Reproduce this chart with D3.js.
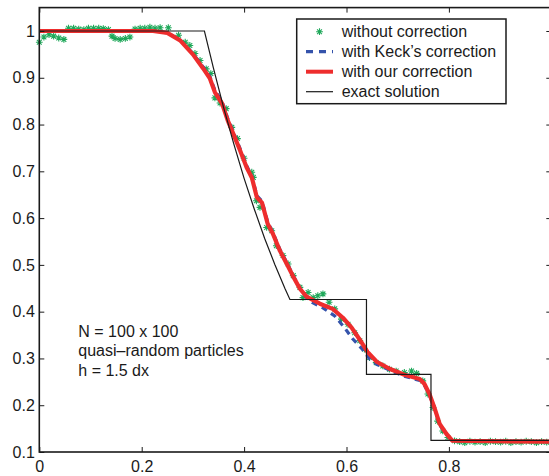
<!DOCTYPE html>
<html>
<head>
<meta charset="utf-8">
<script src="https://cdn.jsdelivr.net/npm/d3@7"></script>
<style>
  body { margin: 0; background: #fff; }
  svg { display: block; font-family: "Liberation Sans", Arial, Helvetica, sans-serif; }
</style>
</head>
<body>
<svg id="chart" width="549" height="476"></svg>
<script>
// without correction (green stars)
const starX = [0.000, 0.009, 0.019, 0.028, 0.038, 0.048, 0.057, 0.067, 0.077, 0.087,
               0.096, 0.106, 0.116, 0.125, 0.135, 0.142, 0.148, 0.158, 0.168, 0.177,
               0.187, 0.197, 0.206, 0.216, 0.226, 0.236, 0.252, 0.272, 0.285, 0.294,
               0.304, 0.314, 0.326, 0.335, 0.343, 0.353, 0.365, 0.376, 0.387, 0.400,
               0.415, 0.418, 0.424, 0.431, 0.444, 0.454, 0.463, 0.476, 0.486, 0.496,
               0.509, 0.515, 0.525, 0.535, 0.544, 0.554, 0.566, 0.577, 0.590, 0.603,
               0.616, 0.626, 0.635, 0.645, 0.658, 0.671, 0.684, 0.697, 0.713, 0.727,
               0.737, 0.749, 0.759, 0.769, 0.778, 0.788, 0.798, 0.811, 0.821, 0.831,
               0.841, 0.851, 0.861, 0.871, 0.881, 0.891, 0.901, 0.911, 0.921, 0.931,
               0.941, 0.951, 0.961, 0.971, 0.981, 0.991];
const starY = [0.976, 0.987, 0.992, 0.989, 0.985, 0.982, 1.006, 1.006, 1.004, 1.003,
               1.006, 1.006, 1.006, 1.005, 1.003, 0.989, 0.984, 0.982, 0.984, 0.987,
               1.004, 1.006, 1.006, 1.008, 1.006, 1.007, 1.007, 0.991, 0.976, 0.969,
               0.952, 0.937, 0.919, 0.909, 0.857, 0.846, 0.834, 0.794, 0.770, 0.728,
               0.698, 0.687, 0.637, 0.623, 0.580, 0.573, 0.541, 0.520, 0.502, 0.477,
               0.452, 0.430, 0.441, 0.430, 0.434, 0.438, 0.420, 0.406, 0.384, 0.373,
               0.355, 0.338, 0.320, 0.302, 0.291, 0.284, 0.277, 0.273, 0.270, 0.273,
               0.268, 0.252, 0.224, 0.195, 0.166, 0.145, 0.131, 0.124, 0.122, 0.120,
               0.123, 0.121, 0.122, 0.120, 0.123, 0.122, 0.121, 0.123, 0.120, 0.122,
               0.121, 0.123, 0.122, 0.120, 0.122, 0.121];

// with Keck's correction (blue dashed)
const keckX = [0, 0.222, 0.250, 0.275, 0.300, 0.320, 0.333, 0.343, 0.357, 0.368, 0.382,
               0.392, 0.405, 0.415, 0.425, 0.435, 0.446, 0.456, 0.470, 0.483, 0.495,
               0.509, 0.522, 0.534, 0.554, 0.577, 0.596, 0.612, 0.630, 0.645, 0.660,
               0.684, 0.713, 0.743, 0.752, 0.762, 0.772, 0.782, 0.795, 0.807, 1.0];
const keckY = [1.0, 1.0, 0.996, 0.981, 0.952, 0.923, 0.903, 0.873, 0.849, 0.813, 0.776,
               0.749, 0.712, 0.690, 0.648, 0.636, 0.592, 0.570, 0.533, 0.506, 0.479,
               0.450, 0.430, 0.419, 0.408, 0.391, 0.366, 0.342, 0.321, 0.299, 0.287,
               0.275, 0.262, 0.253, 0.243, 0.222, 0.192, 0.158, 0.138, 0.124, 0.122];

// with our correction (red)
const oursX = [0, 0.222, 0.250, 0.275, 0.300, 0.320, 0.333, 0.343, 0.357, 0.368, 0.382,
               0.392, 0.405, 0.415, 0.425, 0.435, 0.446, 0.456, 0.470, 0.483, 0.495,
               0.509, 0.522, 0.548, 0.573, 0.593, 0.610, 0.626, 0.641, 0.659, 0.684,
               0.713, 0.743, 0.752, 0.762, 0.772, 0.782, 0.795, 0.807, 1.0];
const oursY = [1.0, 1.0, 0.996, 0.980, 0.950, 0.920, 0.899, 0.869, 0.845, 0.809, 0.772,
               0.745, 0.708, 0.687, 0.644, 0.633, 0.588, 0.567, 0.530, 0.503, 0.477,
               0.449, 0.432, 0.417, 0.406, 0.387, 0.366, 0.340, 0.314, 0.293, 0.278,
               0.265, 0.256, 0.246, 0.224, 0.194, 0.160, 0.139, 0.124, 0.122];

// exact solution (black)
const exactX = [0, 0.3225, 0.34, 0.36, 0.38, 0.40, 0.42, 0.44, 0.46, 0.48, 0.4895,
                0.639, 0.639, 0.765, 0.765, 1.0];
const exactY = [1, 1, 0.921, 0.836, 0.758, 0.685, 0.619, 0.557, 0.501, 0.449, 0.426,
                0.426, 0.266, 0.266, 0.125, 0.125];

const xTicks = [0, 0.2, 0.4, 0.6, 0.8, 1];
const xTickLabels = ['0', '0.2', '0.4', '0.6', '0.8', ''];
const yTicks = [0.1, 0.2, 0.3, 0.4, 0.5, 0.6, 0.7, 0.8, 0.9, 1];
const yTickLabels = ['0.1', '0.2', '0.3', '0.4', '0.5', '0.6', '0.7', '0.8', '0.9', '1'];

const legendLabels = ['without correction', 'with Keck\u2019s correction', 'with our correction', 'exact solution'];
const noteLines = ['N = 100 x 100', 'quasi\u2013random particles', 'h = 1.5 dx'];

// matlab style '*' marker, 8 arms
const asterisk = {
    draw(ctx, size) {
        const r = Math.sqrt(size) / 2;
        const d = r * 0.7071;
        ctx.moveTo(0, -r); ctx.lineTo(0, r);
        ctx.moveTo(-r, 0); ctx.lineTo(r, 0);
        ctx.moveTo(-d, -d); ctx.lineTo(d, d);
        ctx.moveTo(-d, d); ctx.lineTo(d, -d);
    }
};

class ShockTubeChart {
    constructor() {
        this.COLORS = {star: '#1fa85a', keck: '#3553ab', ours: '#ee2d2d', exact: '#1a1a1a', ink: '#1a1a1a'};

        this.xScale = d3.scaleLinear()
            .domain([0, 1])
            .range([39.3, 551.3]);
        this.yScale = d3.scaleLinear()
            .domain([0.1, 1.05])
            .range([452, 7.6]);

        this.svg = d3.select('#chart');
        this.drawChart();
    }

    drawChart() {
        this.drawSeries();
        this.drawAxis();
        this.drawLegend();
        this.drawNote();
    }

    drawAxis() {
        const x = this.xScale, y = this.yScale;
        const g = this.svg.append('g');

        const bottom = d3.axisBottom(x).tickValues(xTicks)
            .tickFormat((d, i) => xTickLabels[i])
            .tickSizeInner(-5).tickSizeOuter(0).tickPadding(9);
        const left = d3.axisLeft(y).tickValues(yTicks)
            .tickFormat((d, i) => yTickLabels[i])
            .tickSizeInner(-5).tickSizeOuter(0).tickPadding(4.5);
        const top = d3.axisTop(x).tickValues(xTicks).tickFormat('')
            .tickSizeInner(-5).tickSizeOuter(0);
        const right = d3.axisRight(y).tickValues(yTicks).tickFormat('')
            .tickSizeInner(-5).tickSizeOuter(0);

        g.append('g').attr('transform', `translate(0, ${y(0.1)})`).call(bottom);
        g.append('g').attr('transform', `translate(${x(0)}, 0)`).call(left);
        g.append('g').attr('transform', `translate(0, ${y(1.05)})`).call(top);
        g.append('g').attr('transform', `translate(${x(1)}, 0)`).call(right);

        g.selectAll('.domain').remove();
        g.selectAll('.tick line').attr('stroke', this.COLORS.ink).attr('stroke-width', 1);
        g.selectAll('.tick text')
            .attr('fill', this.COLORS.ink)
            .style('font-size', '16px')
            .style('font-family', '"Liberation Sans", Arial, sans-serif');

        // box
        g.append('rect')
            .attr('x', x(0)).attr('y', y(1.05))
            .attr('width', x(1) - x(0)).attr('height', y(0.1) - y(1.05))
            .attr('fill', 'none')
            .attr('stroke', this.COLORS.ink)
            .attr('stroke-width', 1.6);
    }

    drawSeries() {
        const x = this.xScale, y = this.yScale;
        const line = d3.line().x(d => x(d[0])).y(d => y(d[1]));
        const g = this.svg.append('g');

        g.selectAll('path.star')
            .data(d3.zip(starX, starY))
            .join('path')
            .attr('class', 'star')
            .attr('transform', d => `translate(${x(d[0])}, ${y(d[1])})`)
            .attr('d', d3.symbol(asterisk, 46))
            .attr('fill', 'none')
            .attr('stroke', this.COLORS.star)
            .attr('stroke-width', 1.1);

        g.append('path')
            .attr('d', line(d3.zip(keckX, keckY)))
            .attr('fill', 'none')
            .attr('stroke', this.COLORS.keck)
            .attr('stroke-width', 3.2)
            .attr('stroke-dasharray', '6,5');

        g.append('path')
            .attr('d', line(d3.zip(oursX, oursY)))
            .attr('fill', 'none')
            .attr('stroke', this.COLORS.ours)
            .attr('stroke-width', 4.2)
            .attr('stroke-linejoin', 'round');

        g.append('path')
            .attr('d', line(d3.zip(exactX, exactY)))
            .attr('fill', 'none')
            .attr('stroke', this.COLORS.exact)
            .attr('stroke-width', 1.2);
    }

    drawLegend() {
        const g = this.svg.append('g');
        g.append('rect')
            .attr('x', 296.7).attr('y', 19)
            .attr('width', 209.3).attr('height', 84.7)
            .attr('fill', '#fff')
            .attr('stroke', this.COLORS.ink)
            .attr('stroke-width', 1.5);

        const rows = g.selectAll('g.row')
            .data(legendLabels)
            .join('g')
            .attr('class', 'row')
            .attr('transform', (d, i) => `translate(0, ${31.7 + i * 20})`);

        rows.append('text')
            .text(d => d)
            .attr('x', 341.7)
            .attr('dy', '0.35em')
            .attr('fill', this.COLORS.ink)
            .style('font-size', '16px');

        rows.filter((d, i) => i === 0).append('path')
            .attr('transform', 'translate(319.5, 0)')
            .attr('d', d3.symbol(asterisk, 46))
            .attr('fill', 'none')
            .attr('stroke', this.COLORS.star)
            .attr('stroke-width', 1.1);

        rows.filter((d, i) => i === 1).append('line')
            .attr('x1', 306).attr('x2', 333)
            .attr('stroke', this.COLORS.keck).attr('stroke-width', 3.2)
            .attr('stroke-dasharray', '7,6');

        rows.filter((d, i) => i === 2).append('line')
            .attr('x1', 306).attr('x2', 333)
            .attr('stroke', this.COLORS.ours).attr('stroke-width', 4);

        rows.filter((d, i) => i === 3).append('line')
            .attr('x1', 306).attr('x2', 333)
            .attr('stroke', this.COLORS.exact).attr('stroke-width', 1.2);
    }

    drawNote() {
        this.svg.append('g').selectAll('text')
            .data(noteLines)
            .join('text')
            .text(d => d)
            .attr('x', 78.3)
            .attr('y', (d, i) => 336.7 + i * 19.7)
            .attr('fill', this.COLORS.ink)
            .style('font-size', '16px');
    }
}

new ShockTubeChart();
</script>
</body>
</html>
